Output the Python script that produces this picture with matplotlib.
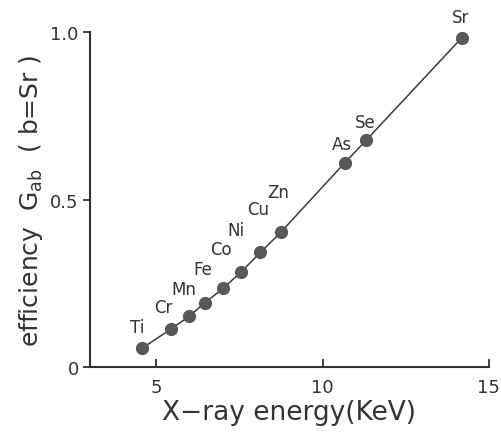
import matplotlib
matplotlib.use("Agg")
import matplotlib.pyplot as plt

# values
elements = ["Ti", "Cr", "Mn", "Fe", "Co", "Ni", "Cu", "Zn", "As", "Se", "Sr"]
energy = [4.57, 5.43, 5.98, 6.45, 7.01, 7.55, 8.13, 8.74, 10.66, 11.32, 14.19]
efficiency = [0.056, 0.113, 0.151, 0.191, 0.235, 0.284, 0.342, 0.402, 0.609, 0.678, 0.983]
# label offsets (points) from each marker
label_dx = [-3.5, -5, -3.5, -1.5, -1.5, -3.5, -2, -2, -2, -1, -1]
label_dy = [15, 16, 19.5, 24.5, 28, 30, 31, 29, 14, 13, 15]

plt.rcParams["font.family"] = "DejaVu Sans"
plt.rcParams["mathtext.fontset"] = "dejavusans"
ink = "#333333"

fig = plt.figure(figsize=(5.01, 4.39), dpi=100)
ax = fig.add_axes([0.1796, 0.1617, 0.796, 0.7631])

ax.plot(energy, efficiency, color="#3a3a3a", lw=1.1, marker="o",
        markersize=8.5, markerfacecolor="#585858", markeredgecolor="#585858")

for name, x, y, dx, dy in zip(elements, energy, efficiency, label_dx, label_dy):
    ax.annotate(name, (x, y), xytext=(dx, dy), textcoords="offset points",
                ha="center", va="center", fontsize=12, color=ink)

ax.set_xlim(3, 15)
ax.set_ylim(0, 1.0)
ax.set_xticks([5, 10, 15])
ax.set_yticks([0, 0.5, 1.0])
ax.set_yticklabels(["0", "0.5", "1.0"])

ax.spines["top"].set_visible(False)
ax.spines["right"].set_visible(False)
for s in ["left", "bottom"]:
    ax.spines[s].set_linewidth(1.5)
    ax.spines[s].set_color(ink)

ax.tick_params(axis="x", direction="in", length=6, width=1.3, colors=ink,
               labelsize=13, pad=8)
ax.tick_params(axis="y", direction="out", length=5, width=1.3, colors=ink,
               labelsize=13, pad=3)

ax.set_xlabel("X\u2212ray energy(KeV)", fontsize=19, color=ink, labelpad=2)
ax.set_ylabel(r"efficiency  $\mathrm{G_{ab}}$  ( b=Sr )", fontsize=18,
              color=ink, labelpad=4)

fig.savefig("out.png", dpi=100)
